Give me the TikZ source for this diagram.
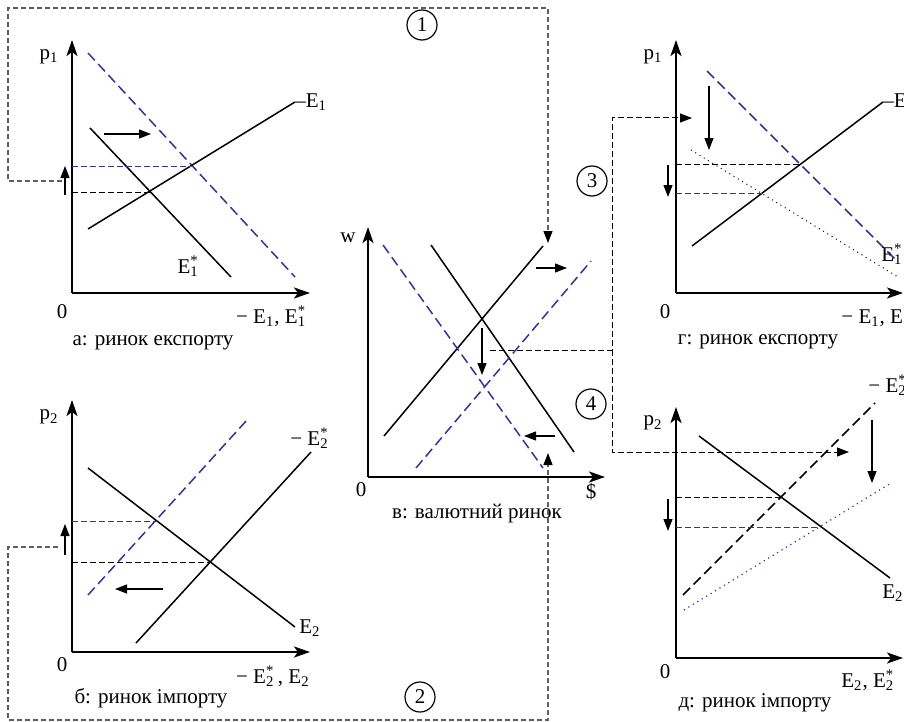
\documentclass[tikz,border=0pt]{standalone}
\usepackage{fontspec}
\setmainfont{Liberation Serif}
\usetikzlibrary{arrows.meta}
\definecolor{shiftblue}{RGB}{51,51,153}
\definecolor{linkgray}{RGB}{95,95,95}
\tikzset{
  axisline/.style={line width=1.2pt, -{Stealth[length=8pt,width=5.5pt,inset=2pt]}},
  curveline/.style={line width=0.75pt},
  bluecurve/.style={shiftblue, line width=0.75pt, dash pattern=on 5pt off 2.5pt},
  blackcurve/.style={line width=0.75pt, dash pattern=on 5pt off 2.5pt},
  levelline/.style={line width=0.5pt, dash pattern=on 3pt off 1.5pt},
  linkline/.style={linkgray, line width=0.6pt, dash pattern=on 2.5pt off 1.5pt},
  movearrow/.style={line width=0.6pt, -{Triangle[length=6pt,width=4.5pt]}},
  linkarrow/.style={-{Triangle[length=6pt,width=4.5pt,color=black]}},
  stepnum/.style={circle, draw, line width=0.6pt, minimum size=15pt, inner sep=0pt},
  lbl/.style={inner sep=1pt}
}
\newcommand\Estar[1]{E\rlap{\textsuperscript{*}}\textsubscript{#1}}
\begin{document}
\begin{tikzpicture}[x=0.5pt, y=-0.5pt, font=\fontsize{10.5}{12.6}\selectfont]
    \useasboundingbox (0,0) rectangle (904,722);

    % Axes of the five panels (origin x/y, top of y-axis, end of x-axis)
    \foreach \ox/\oy/\ty/\ex in {72/293/40/310, 72/652/400/310, 368/477/227/605, 676/293/40/903, 676/658/407/903} {
        \draw[axisline] (\ox,\oy) -- (\ox,\ty);
        \draw[axisline] (\ox,\oy) -- (\ex,\oy);
    }

    % Panel a: export market
    \draw[bluecurve] (88,53) -- (295,277);
    \draw[curveline] (88,229) -- (295,102);
    \draw[curveline] (90,128) -- (231,277);
    \draw[levelline, shiftblue] (72,166) -- (191,166);
    \draw[levelline] (72,192) -- (150,192);
    \draw[movearrow] (104,134) -- (151,134);
    \draw[movearrow] (65,195) -- (65,166);
    \node[lbl] (pa) at (49,57) {p\textsubscript{1}};
    \node[lbl] (za) at (62,312) {0};
    \node[lbl, anchor=east] (xa) at (312,316) {− E\textsubscript{1}, \Estar{1}\,};
    \node[lbl, anchor=west] (ea) at (293,102) {–E\textsubscript{1}};
    \node[lbl] (esa) at (190,266) {\Estar{1}\,};
    \node[lbl] (capa) at (153,343) {а: ринок експорту};

    % Panel b: import market
    \draw[bluecurve] (88,595) -- (247,420);
    \draw[curveline] (88,468) -- (295,627);
    \draw[curveline] (136,643) -- (311,452);
    \draw[levelline, shiftblue] (72,521) -- (156,521);
    \draw[levelline] (72,562) -- (210,562);
    \draw[movearrow] (163,589) -- (115,589);
    \draw[movearrow] (65,555) -- (65,524);
    \node[lbl] (pb) at (49,417) {p\textsubscript{2}};
    \node[lbl] (zb) at (62,665) {0};
    \node[lbl, anchor=east] (xb) at (312,676) {− \Estar{2}\,, E\textsubscript{2}};
    \node[lbl, anchor=west] (eb) at (288,438) {− \Estar{2}};
    \node[lbl, anchor=west] (fb) at (297,628) {E\textsubscript{2}};
    \node[lbl] (capb) at (151,698) {б: ринок імпорту};

    % Panel c: currency market
    \draw[curveline] (384,436) -- (543,246);
    \draw[curveline] (431,245) -- (574,452);
    \draw[bluecurve] (383,245) -- (543,468);
    \draw[bluecurve] (416,468) -- (591,261);
    \draw[movearrow] (536,268) -- (567,268);
    \draw[movearrow] (482,328) -- (482,375);
    \draw[movearrow] (555,436) -- (524,436);
    \node[lbl] (wc) at (348,238) {w};
    \node[lbl] (zc) at (361,490) {0};
    \node[lbl] (dc) at (591,492) {\$};
    \node[lbl] (capc) at (477,514) {в: валютний ринок};

    % Panel d: export market, second round
    \draw[bluecurve] (707,71) -- (898,262);
    \draw[curveline] (692,246) -- (883,102);
    \draw[line width=0.5pt, dotted] (691,150) -- (898,277);
    \draw[levelline] (676,164) -- (802,164);
    \draw[levelline, shiftblue] (676,193) -- (762,193);
    \draw[movearrow] (709,86) -- (709,150);
    \draw[movearrow] (668,165) -- (668,197);
    \node[lbl] (pd) at (653,57) {p\textsubscript{1}};
    \node[lbl] (zd) at (665,312) {0};
    \node[lbl, anchor=west] (xd) at (839,316) {− E\textsubscript{1}, \Estar{1}};
    \node[lbl, anchor=west] (ed) at (881,102) {–E\textsubscript{1}};
    \node[lbl, anchor=west] (esd) at (879,254) {\Estar{1}};
    \node[lbl] (capd) at (758,342) {г: ринок експорту};

    % Panel e: import market, second round
    \draw[blackcurve] (683,595) -- (875,403);
    \draw[curveline] (699,436) -- (890,578);
    \draw[shiftblue, line width=0.6pt, dotted] (684,610) -- (891,483);
    \draw[levelline] (676,497) -- (782,497);
    \draw[levelline, shiftblue] (676,527) -- (820,527);
    \draw[movearrow] (872,420) -- (872,483);
    \draw[movearrow] (668,499) -- (668,531);
    \node[lbl] (pe) at (653,423) {p\textsubscript{2}};
    \node[lbl] (ze) at (665,672) {0};
    \node[lbl, anchor=west] (xe) at (839,680) {E\textsubscript{2}, \Estar{2}};
    \node[lbl, anchor=west] (ee) at (866,385) {− \Estar{2}};
    \node[lbl, anchor=west] (fe) at (880,593) {E\textsubscript{2}};
    \node[lbl] (cape) at (755,703) {д: ринок імпорту};

    % Links between the markets
    \coordinate (la) at (62,181);
    \coordinate (lc) at (548,243);
    \coordinate (lb) at (58,547);
    \coordinate (lc2) at (548,453);
    \coordinate (lm) at (490,350);
    \coordinate (ld) at (692,118);
    \coordinate (le) at (849,452);
    \draw[linkline, linkarrow] (la) -- (8,181) -- (8,8) -- (548,8) -- (lc);
    \draw[linkline, linkarrow] (lb) -- (8,547) -- (8,720) -- (548,720) -- (lc2);
    \draw[levelline, linkarrow] (lm) -- (612,350) -- (612,118) -- (ld);
    \draw[levelline, linkarrow] (612,350) -- (612,452) -- (le);

    % Step numbers
    \node[stepnum] (n1) at (422,25) {1};
    \node[stepnum] (n2) at (420,697) {2};
    \node[stepnum] (n3) at (592,181) {3};
    \node[stepnum] (n4) at (591,404) {4};
\end{tikzpicture}
\end{document}
